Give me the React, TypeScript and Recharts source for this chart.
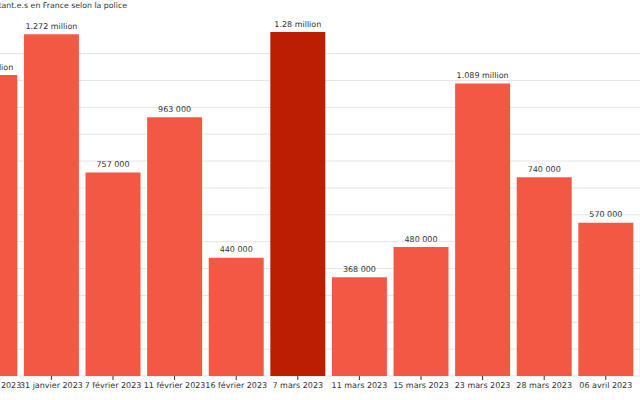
import React from "react";
import { BarChart, Bar, XAxis, YAxis, CartesianGrid, LabelList, Cell } from "recharts";

const title = "Nombre de manifestant.e.s en France selon la police";
const dates = [
  "19 janvier 2023",
  "31 janvier 2023",
  "7 février 2023",
  "11 février 2023",
  "16 février 2023",
  "7 mars 2023",
  "11 mars 2023",
  "15 mars 2023",
  "23 mars 2023",
  "28 mars 2023",
  "06 avril 2023",
  "13 avril 2023",
];
const manifestants = [1120000, 1272000, 757000, 963000, 440000, 1280000, 368000, 480000, 1089000, 740000, 570000, 380000];
const highlighted = ["7 mars 2023"];
const yTicks = [0, 100000, 200000, 300000, 400000, 500000, 600000, 700000, 800000, 900000, 1000000, 1100000, 1200000];

const data = dates.map((d, i) => ({ date: d, value: manifestants[i] }));

const FONT = "DejaVu Sans";
const BAR = "#f35845";
const BAR_DARK = "#bb1e00";

const fmt = (v: any) => {
  const n = Number(v);
  if (n >= 1000000) return `${n / 1000000} million`;
  return `${Math.round(n / 1000)} 000`;
};

const ValueLabel = (props: any) => {
  const { x, y, width, value } = props;
  return (
    <text
      x={Number(x) + Number(width) / 2}
      y={Number(y) - 5.5}
      textAnchor="middle"
      fill="#333"
      fontSize={8}
      fontFamily={FONT}
    >
      {fmt(value)}
    </text>
  );
};

export default function App() {
  return (
    <div
      style={{
        position: "fixed",
        left: 0,
        top: 0,
        width: 640,
        height: 400,
        overflow: "hidden",
        background: "#fff",
        fontFamily: FONT,
      }}
    >
      <div style={{ position: "absolute", left: -41.4, top: -27 }}>
        <BarChart
          width={739.2}
          height={427}
          data={data}
          margin={{ top: 0, right: 0, bottom: 0, left: 0 }}
          barCategoryGap="5.4%"
        >
          <CartesianGrid vertical={false} stroke="#e5e5e5" />
          <YAxis hide domain={[0, 1500000]} ticks={yTicks} />
          <XAxis
            dataKey="date"
            interval={0}
            height={24}
            axisLine={false}
            tickSize={4}
            tickLine={{ stroke: "#333" }}
            tick={{ fill: "#333", fontSize: 8, fontFamily: FONT }}
          />
          <Bar dataKey="value" isAnimationActive={false}>
            {data.map((d) => (
              <Cell key={d.date} fill={highlighted.includes(d.date) ? BAR_DARK : BAR} />
            ))}
            <LabelList dataKey="value" content={ValueLabel} />
          </Bar>
        </BarChart>
      </div>
      <div
        style={{
          position: "absolute",
          right: 513,
          top: 0,
          whiteSpace: "nowrap",
          fontSize: 7.8,
          lineHeight: "11px",
          color: "#333",
        }}
      >
        {title}
      </div>
    </div>
  );
}
